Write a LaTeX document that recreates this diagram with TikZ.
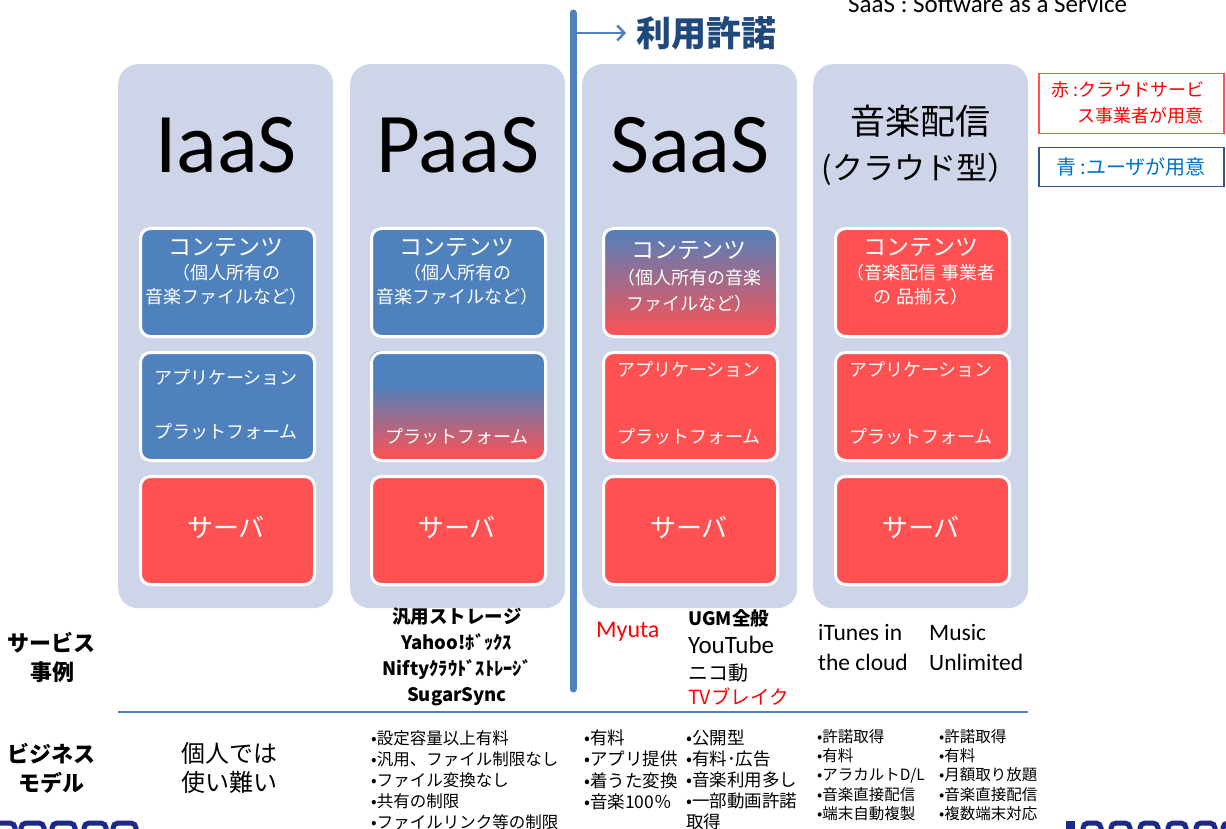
\documentclass[tikz,border=0pt]{standalone}
\usepackage{fontspec}
\setmainfont{Carlito}
\newfontfamily\jp{Noto Sans CJK JP}
\usetikzlibrary{arrows.meta}
\newcommand\myfs[2]{\fontsize{#1}{#2}\selectfont}
\definecolor{colbg}{HTML}{CFD5E8}
\definecolor{blueB}{HTML}{4F81BD}
\definecolor{redB}{HTML}{FF5151}
\definecolor{titleblue}{HTML}{1F497D}
\definecolor{legblue}{HTML}{0070C0}
\definecolor{legborder}{HTML}{2F5597}
\definecolor{legred}{HTML}{FF0000}
\definecolor{navy}{HTML}{1B2A8A}
\begin{document}
\begin{tikzpicture}[x=1pt,y=-1pt,
  col/.style={fill=colbg, rounded corners=20pt, minimum width=215pt, minimum height=544pt, anchor=north west, inner sep=0pt},
  ibox/.style={draw=white, line width=3pt, rounded corners=10pt, minimum width=174pt, minimum height=108pt, anchor=north west, inner sep=0pt},
  bluebox/.style={ibox, fill=blueB},
  redbox/.style={ibox, fill=redB},
  gradbox/.style={ibox, top color=blueB, bottom color=redB},
  wtxt/.style={text=white, font=\jp\myfs{18}{24}, align=center, inner sep=0pt},
  srvtxt/.style={text=white, font=\jp\myfs{26}{30}, inner sep=0pt},
  title/.style={font=\myfs{85}{90}, inner sep=0pt},
  lbl/.style={font=\jp\bfseries\myfs{22}{29}, align=center, inner sep=0pt},
  lst/.style={font=\jp\myfs{16.5}{21}, align=left, inner sep=0pt, anchor=west},
  lsts/.style={font=\jp\myfs{15.5}{19.25}, align=left, inner sep=0pt, anchor=west},
  ex/.style={inner sep=0pt, anchor=west},
  logo/.style={draw=navy, line width=5pt, rounded corners=5pt},
]
\useasboundingbox (0,0) rectangle (1226,829);

% columns
\node[col] (ciaas) at (118,64) {};
\node[col] (cpaas) at (350,64) {};
\node[col] (csaas) at (582,64) {};
\node[col] (cmus) at (813,64) {};

% titles
\node[title] (tiaas) at (226,145) {IaaS};
\node[title] (tpaas) at (458,145) {PaaS};
\node[title] (tsaas) at (690,145) {SaaS};
\node[font=\jp\myfs{35}{45}, align=center, inner sep=0pt] (tmus) at (920,145) {音楽配信\\{\myfs{31}{45}(クラウド型）}};

% content boxes
\node[bluebox] (iaasc) at (139,227) {};
\node[wtxt] (iaasct) at (226,272) {{\myfs{23}{25}コンテンツ}\\（個人所有の\\音楽ファイルなど）};
\node[bluebox] (paasc) at (370,227) {};
\node[wtxt] (paasct) at (457,272) {{\myfs{23}{25}コンテンツ}\\（個人所有の\\音楽ファイルなど）};
\node[gradbox] (saasc) at (602,227) {};
\node[wtxt, font=\jp\myfs{18}{26}] (saasct) at (689,277) {{\myfs{23}{28}コンテンツ}\\（個人所有の音楽\\ファイルなど）};
\node[redbox] (musc) at (834,227) {};
\node[wtxt] (musct) at (921,272) {{\myfs{23}{25}コンテンツ}\\（音楽配信 事業者\\の 品揃え）};

% application / platform boxes
\node[bluebox] (iaasa) at (139,351) {};
\node[wtxt] (iaasa1) at (226,378) {アプリケーション};
\node[wtxt] (iaasa2) at (226,432) {プラットフォーム};

\begin{scope}
\clip[rounded corners=10pt] (370,351) rectangle (544,459);
\fill[blueB] (370,351) rectangle (544,386);
\shade[top color=blueB, bottom color=redB] (370,386) rectangle (544,459);
\end{scope}
\node[ibox] (paasa) at (370,351) {};
\node[wtxt] (paasa2) at (457,437) {プラットフォーム};

\node[redbox] (saasa) at (602,351) {};
\node[wtxt] (saasa1) at (689,370) {アプリケーション};
\node[wtxt] (saasa2) at (689,437) {プラットフォーム};
\node[redbox] (musa) at (834,351) {};
\node[wtxt] (musa1) at (921,370) {アプリケーション};
\node[wtxt] (musa2) at (921,437) {プラットフォーム};

% server boxes
\node[redbox] (iaass) at (139,475) {};
\node[srvtxt] (iaasst) at (226,527) {サーバ};
\node[redbox] (paass) at (370,475) {};
\node[srvtxt] (paasst) at (457,527) {サーバ};
\node[redbox] (saass) at (602,475) {};
\node[srvtxt] (saasst) at (689,527) {サーバ};
\node[redbox] (muss) at (834,475) {};
\node[srvtxt] (musst) at (921,527) {サーバ};

% license line and arrow
\coordinate (vtop) at (573,13);
\coordinate (vbot) at (573,689);
\draw[blueB, line width=7pt, line cap=round] (vtop) -- (vbot);
\coordinate (astart) at (573,33);
\coordinate (aend) at (626,33);
\draw[blueB, line width=2.5pt, -{Straight Barb[length=7pt,width=15pt]}] (astart) -- (aend);
\node[font=\jp\bfseries\myfs{35}{37}, text=titleblue, inner sep=0pt, anchor=west] (lic) at (636,33) {利用許諾};

% top note
\node[font=\myfs{25}{27}, inner sep=0pt, anchor=base west] (note) at (848,13) {SaaS : Software as a Service};

% legend
\node[draw=redB, line width=1.5pt, minimum width=185pt, minimum height=60pt, anchor=north west, inner sep=0pt] (legr) at (1038,73) {};
\node[font=\jp\myfs{18}{20}, text=legred, inner sep=0pt, anchor=west] (legr1) at (1051,90) {赤 :クラウドサービ};
\node[font=\jp\myfs{18}{20}, text=legred, inner sep=0pt, anchor=west] (legr2) at (1077,116) {ス事業者が用意};
\node[draw=legborder, line width=1.5pt, minimum width=185pt, minimum height=39pt, anchor=north west, inner sep=0pt] (legb) at (1038,147) {};
\node[font=\jp\myfs{20}{22}, text=legblue, inner sep=0pt] (legbt) at (1131,167) {青 :ユーザが用意};

% row labels
\node[lbl] (svc) at (52,657) {サービス\\事例};
\node[lbl] (biz) at (52,768) {ビジネス\\モデル};

% separator
\coordinate (hl) at (118,712);
\coordinate (hr) at (1028,712);
\draw[blueB, line width=2pt] (hl) -- (hr);

% service examples
\node[font=\jp\bfseries\myfs{18.5}{26}, align=center, inner sep=0pt] (exp) at (457,657) {汎用ストレージ\\Yahoo!ﾎﾞｯｸｽ\\Niftyｸﾗｳﾄﾞｽﾄﾚｰｼﾞ\\SugarSync};
\node[ex, font=\myfs{24}{26}, text=legred] (exmy) at (596,632) {Myuta};
\node[ex, font=\jp\bfseries\myfs{18.5}{20}] (exu1) at (688,618) {UGM全般};
\node[ex, font=\myfs{25}{26}] (exu2) at (688,645) {YouTube};
\node[ex, font=\jp\myfs{20}{22}] (exu3) at (688,673) {ニコ動};
\node[ex, font=\jp\myfs{19.5}{22}, text=legred] (exu4) at (688,697) {TVブレイク};
\node[ex, font=\myfs{23.5}{30}, align=left] (exit) at (818,647) {iTunes in\\the cloud};
\node[ex, font=\myfs{23.5}{30}, align=left] (exmu) at (929,647) {Music\\Unlimited};

% business models
\node[ex, font=\jp\myfs{24}{29}, align=left] (bziaas) at (181,768) {個人では\\使い難い};
\node[lst] (bzpaas) at (371,780) {•設定容量以上有料\\•汎用、ファイル制限なし\\•ファイル変換なし\\•共有の制限\\•ファイルリンク等の制限};
\node[lst, font=\jp\myfs{17.5}{21.3}] (bzsaas1) at (584,770) {•有料\\•アプリ提供\\•着うた変換\\•音楽100％};
\node[lst, font=\jp\myfs{17.5}{21}] (bzsaas2) at (686,780) {•公開型\\•有料･広告\\•音楽利用多し\\•一部動画許諾\\取得};
\node[lsts] (bzmus1) at (817,775) {•許諾取得\\•有料\\•アラカルトD/L\\•音楽直接配信\\•端末自動複製};
\node[lsts] (bzmus2) at (939,775) {•許諾取得\\•有料\\•月額取り放題\\•音楽直接配信\\•複数端末対応};

% cut-off logos
\draw[logo] (-8,823) rectangle (15,860);
\draw[logo] (21,823) rectangle (44,860);
\draw[logo] (52,823) rectangle (75,860);
\draw[logo] (84,823) rectangle (106,860);
\draw[logo] (113,823) rectangle (136,860);
\fill[navy] (1066,821) rectangle (1075,860);
\draw[logo] (1083,823) rectangle (1101,860);
\draw[logo] (1111,823) rectangle (1130,860);
\draw[logo] (1140,823) rectangle (1158,860);
\draw[logo] (1168,823) rectangle (1186,860);
\draw[logo] (1196,823) rectangle (1215,860);
\draw[logo] (1223,823) rectangle (1242,860);
\end{tikzpicture}
\end{document}
